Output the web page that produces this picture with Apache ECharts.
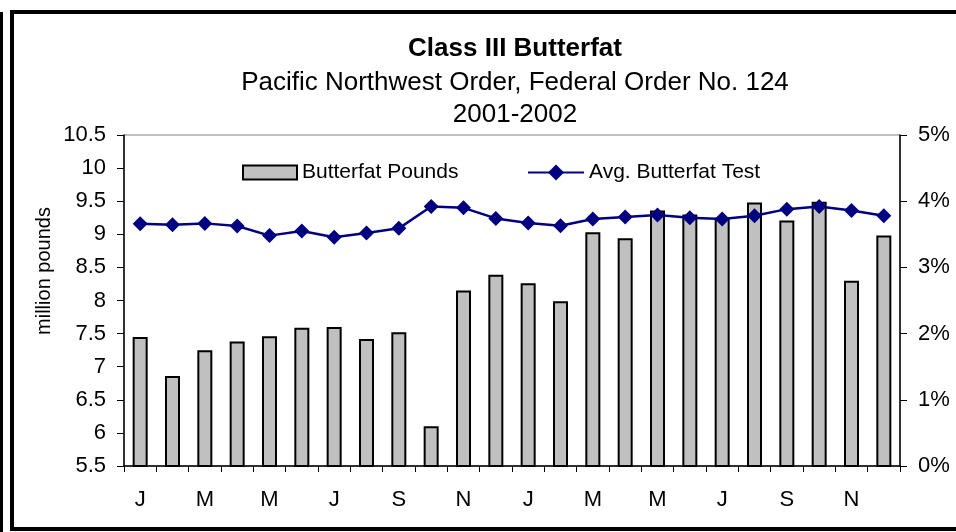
<!DOCTYPE html>
<html>
<head>
  <meta charset="utf-8">
  <title>Class III Butterfat</title>
  <script src="https://cdn.jsdelivr.net/npm/echarts/dist/echarts.min.js"></script>
  <style>
    html, body { margin: 0; padding: 0; background: #fff; }
    #chart { width: 956px; height: 532px; }
  </style>
</head>
<body>
  <div id="chart"></div>
  <script>
    // months Jan 2001 .. Dec 2002
    const months = ['J', 'F', 'M', 'A', 'M', 'J', 'J', 'A', 'S', 'O', 'N', 'D',
                    'J', 'F', 'M', 'A', 'M', 'J', 'J', 'A', 'S', 'O', 'N', 'D'];
    // million pounds
    const butterfatPounds = [7.45, 6.86, 7.25, 7.38, 7.46, 7.59, 7.60, 7.42, 7.52, 6.10, 8.15, 8.39,
                             8.26, 7.99, 9.03, 8.94, 9.36, 9.30, 9.25, 9.48, 9.21, 9.49, 8.30, 8.98];
    // percent
    const avgTest = [3.66, 3.645, 3.665, 3.625, 3.48, 3.55, 3.455, 3.52, 3.59, 3.92, 3.90, 3.74,
                     3.67, 3.63, 3.73, 3.76, 3.79, 3.75, 3.73, 3.78, 3.88, 3.92, 3.86, 3.78];

    const font = 'Liberation Sans, Arial, sans-serif';
    const legendText = { fontSize: 21, color: '#000', fontFamily: font };
    const chart = echarts.init(document.getElementById('chart'));
    chart.setOption({
      animation: false,
      textStyle: { fontFamily: font, color: '#000' },
      title: [
        { text: 'Class III Butterfat', left: 510, top: 31, textAlign: 'center',
          textStyle: { fontSize: 26, fontWeight: 'bold', color: '#000', fontFamily: font } },
        { text: 'Pacific Northwest Order, Federal Order No. 124', left: 510, top: 65, textAlign: 'center',
          textStyle: { fontSize: 26, fontWeight: 'normal', color: '#000', fontFamily: font } },
        { text: '2001-2002', left: 510, top: 97, textAlign: 'center',
          textStyle: { fontSize: 26, fontWeight: 'normal', color: '#000', fontFamily: font } }
      ],
      legend: [
        {
          top: 157, left: 237,
          itemWidth: 54, itemHeight: 14, itemGap: 0,
          icon: 'rect',
          textStyle: legendText,
          data: [{ name: 'Butterfat Pounds', itemStyle: { borderColor: '#000', borderWidth: 2 } }]
        },
        {
          top: 157, left: 522,
          itemWidth: 56, itemHeight: 20, itemGap: 0,
          textStyle: legendText,
          data: [{ name: 'Avg. Butterfat Test' }]
        }
      ],
      grid: {
        left: 124, right: 56, top: 135, bottom: 66,
        show: true, borderColor: '#808080', borderWidth: 1
      },
      xAxis: {
        type: 'category',
        data: months,
        boundaryGap: true,
        axisLine: { lineStyle: { color: '#000', width: 1.5 } },
        axisTick: { show: true, interval: 0, length: 6, lineStyle: { color: '#000' } },
        axisLabel: { interval: 1, fontSize: 22, color: '#000', margin: 23, fontFamily: font }
      },
      yAxis: [
        {
          type: 'value', min: 5.5, max: 10.5, interval: 0.5,
          axisLine: { show: true, lineStyle: { color: '#000', width: 1.5 } },
          axisTick: { show: true, length: 7, lineStyle: { color: '#000' } },
          axisLabel: { fontSize: 22, color: '#000', margin: 18, fontFamily: font },
          splitLine: { show: false }
        },
        {
          type: 'value', min: 0, max: 5, interval: 1,
          axisLine: { show: true, lineStyle: { color: '#000', width: 1.5 } },
          axisTick: { show: true, length: 7, lineStyle: { color: '#000' } },
          axisLabel: { fontSize: 22, color: '#000', margin: 18, formatter: '{value}%', fontFamily: font },
          splitLine: { show: false }
        }
      ],
      series: [
        {
          name: 'Butterfat Pounds',
          type: 'bar',
          data: butterfatPounds,
          barWidth: 15,
          itemStyle: { color: '#c0c0c0', borderColor: '#000', borderWidth: 2 }
        },
        {
          name: 'Avg. Butterfat Test',
          type: 'line',
          yAxisIndex: 1,
          data: avgTest,
          symbol: 'diamond',
          symbolSize: 15,
          lineStyle: { color: '#000080', width: 2.5 },
          itemStyle: { color: '#000080' }
        }
      ],
      graphic: [
        { type: 'text', x: 44, y: 271, rotation: Math.PI / 2,
          style: { text: 'million pounds', fontSize: 20, fontFamily: font, fill: '#000',
                   align: 'center', verticalAlign: 'middle' } },
        { type: 'rect', shape: { x: 12, y: 12, width: 960, height: 517 },
          style: { fill: 'none', stroke: '#000', lineWidth: 4 } },
        { type: 'rect', shape: { x: 0, y: 12, width: 3, height: 520 },
          style: { fill: '#000' } }
      ]
    });
  </script>
</body>
</html>
